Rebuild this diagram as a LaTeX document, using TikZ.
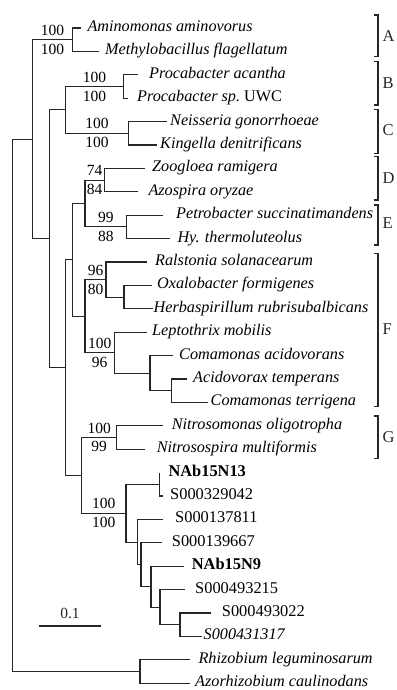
\documentclass[tikz,border=0pt]{standalone}
\usepackage{fontspec}
\setmainfont{Liberation Serif}
\usepackage{tikz}
\usetikzlibrary{calc}

\begin{document}
\begin{tikzpicture}[x=1pt, y=-1pt,
  branch/.style={line width=1.1pt, black!85},
  taxon/.style={anchor=west, inner sep=0pt, text height=7pt, text depth=0pt,
    font=\fontsize{16.2}{18}\selectfont\itshape},
  strain/.style={taxon, font=\fontsize{16.4}{18}\selectfont},
  boot/.style={inner sep=4pt, font=\fontsize{15.5}{17}\selectfont},
  cladename/.style={right, inner sep=4pt, font=\fontsize{16.5}{18}\selectfont}]
\useasboundingbox (0,0) rectangle (396,690);
% Internal nodes
\coordinate (Root) at (12.7,405.4);
\coordinate (In) at (32.3,139.2);
\coordinate (A) at (72.7,39.7);
\coordinate (BG) at (49.3,238.7);
\coordinate (BC) at (65.7,109.9);
\coordinate (B) at (123.3,86.5);
\coordinate (C) at (128.3,133.3);
\coordinate (DN) at (65.7,367.6);
\coordinate (DF) at (72.7,259.8);
\coordinate (DE) at (85,203.5);
\coordinate (D) at (104.3,180.1);
\coordinate (E) at (126.7,226.9);
\coordinate (F) at (85,316.2);
\coordinate (Fa) at (106,279.6);
\coordinate (Fb) at (124,297.1);
\coordinate (Fc) at (114.3,352.7);
\coordinate (Fd) at (150,373.2);
\coordinate (Fe) at (171.7,390.7);
\coordinate (GN) at (81.7,475.3);
\coordinate (G) at (116.7,437.5);
\coordinate (N) at (126,513.2);
\coordinate (Na) at (159.3,484.3);
\coordinate (Nb) at (137.5,542.1);
\coordinate (Nc) at (141,564.8);
\coordinate (Nd) at (151,586.7);
\coordinate (Ne) at (160,607.2);
\coordinate (Nf) at (180,624.7);
\coordinate (Out) at (140,671.5);
% Tips (end of each leaf branch)
\coordinate (Amin) at (81,28.0);
\coordinate (Meth) at (99,51.4);
\coordinate (Pacan) at (138.3,74.8);
\coordinate (Puwc) at (128.3,98.2);
\coordinate (Neis) at (166.7,121.6);
\coordinate (King) at (156.7,145.0);
\coordinate (Zoog) at (145,168.4);
\coordinate (Azos) at (138.3,191.8);
\coordinate (Petr) at (163.3,215.2);
\coordinate (Hyth) at (170,238.6);
\coordinate (Rals) at (146.7,262.0);
\coordinate (Oxal) at (152,285.4);
\coordinate (Herb) at (153.3,308.8);
\coordinate (Lept) at (146.7,332.2);
\coordinate (Cacid) at (173.3,355.6);
\coordinate (Acid) at (186.7,379.0);
\coordinate (Cterr) at (208.3,402.4);
\coordinate (Nmon) at (163.3,425.8);
\coordinate (Nspi) at (145,449.2);
\coordinate (NAbA) at (159.3,472.6);
\coordinate (Sa) at (163.3,496.0);
\coordinate (Sb) at (163.3,519.4);
\coordinate (Sc) at (161.7,542.8);
\coordinate (NAbB) at (184,566.2);
\coordinate (Sd) at (185,589.6);
\coordinate (Se) at (211,613.0);
\coordinate (Sf) at (201.5,636.4);
\coordinate (Rhiz) at (190,659.8);
\coordinate (Azor) at (190,683.2);
% Branches
\draw[branch] (Root) |- (In) (Root) |- (Out);
\draw[branch] (In) |- (A) (In) |- (BG);
\draw[branch] (A) |- (Amin) (A) |- (Meth);
\draw[branch] (BG) |- (BC) (BG) |- (DN);
\draw[branch] (BC) |- (B) (BC) |- (C);
\draw[branch] (B) |- (Pacan) (B) |- (Puwc);
\draw[branch] (C) |- (Neis) (C) |- (King);
\draw[branch] (DN) |- (DF) (DN) |- (GN);
\draw[branch] (DF) |- (DE) (DF) |- (F);
\draw[branch] (DE) |- (D) (DE) |- (E);
\draw[branch] (D) |- (Zoog) (D) |- (Azos);
\draw[branch] (E) |- (Petr) (E) |- (Hyth);
\draw[branch] (F) |- (Fa) (F) |- (Fc);
\draw[branch] (Fa) |- (Rals) (Fa) |- (Fb);
\draw[branch] (Fb) |- (Oxal) (Fb) |- (Herb);
\draw[branch] (Fc) |- (Lept) (Fc) |- (Fd);
\draw[branch] (Fd) |- (Cacid) (Fd) |- (Fe);
\draw[branch] (Fe) |- (Acid) (Fe) |- (Cterr);
\draw[branch] (GN) |- (G) (GN) |- (N);
\draw[branch] (G) |- (Nmon) (G) |- (Nspi);
\draw[branch] (N) |- (Na) (N) |- (Nb);
\draw[branch] (Na) |- (NAbA) (Na) |- (Sa);
\draw[branch] (Nb) |- (Sb) (Nb) |- (Nc);
\draw[branch] (Nc) |- (Sc) (Nc) |- (Nd);
\draw[branch] (Nd) |- (NAbB) (Nd) |- (Ne);
\draw[branch] (Ne) |- (Sd) (Ne) |- (Nf);
\draw[branch] (Nf) |- (Se) (Nf) |- (Sf);
\draw[branch] (Out) |- (Rhiz) (Out) |- (Azor);
% Taxon names
\node[taxon] (AminL) at (87.3,28.0) {Aminomonas aminovorus};
\node[taxon] (MethL) at (105,51.4) {Methylobacillus flagellatum};
\node[taxon] (PacanL) at (149,74.8) {Procabacter acantha};
\node[taxon] (PuwcL) at (137,98.2) {Procabacter sp.\ \upshape UWC};
\node[taxon] (NeisL) at (170,121.6) {Neisseria gonorrhoeae};
\node[taxon] (KingL) at (160,145.0) {Kingella denitrificans};
\node[taxon] (ZoogL) at (152,168.4) {Zoogloea ramigera};
\node[taxon] (AzosL) at (148.3,191.8) {Azospira oryzae};
\node[taxon] (PetrL) at (176,215.2) {Petrobacter succinatimandens};
\node[taxon] (HythL) at (177.3,238.6) {Hy. thermoluteolus};
\node[taxon] (RalsL) at (155,262.0) {Ralstonia solanacearum};
\node[taxon] (OxalL) at (157,285.4) {Oxalobacter formigenes};
\node[taxon] (HerbL) at (153.5,308.8) {Herbaspirillum rubrisubalbicans};
\node[taxon] (LeptL) at (152,332.2) {Leptothrix mobilis};
\node[taxon] (CacidL) at (179,355.6) {Comamonas acidovorans};
\node[taxon] (AcidL) at (193,379.0) {Acidovorax temperans};
\node[taxon] (CterrL) at (210.5,402.4) {Comamonas terrigena};
\node[taxon] (NmonL) at (171.7,425.8) {Nitrosomonas oligotropha};
\node[taxon] (NspiL) at (156.7,449.2) {Nitrosospira multiformis};
\node[strain] (NAbAL) at (168.3,472.6) {\bfseries NAb15N13};
\node[strain] (SaL) at (170,496.0) {S000329042};
\node[strain] (SbL) at (175,519.4) {S000137811};
\node[strain] (ScL) at (171.7,542.8) {S000139667};
\node[strain] (NAbBL) at (191.7,566.2) {\bfseries NAb15N9};
\node[strain] (SdL) at (195,589.6) {S000493215};
\node[strain] (SeL) at (221.7,613.0) {S000493022};
\node[taxon] (SfL) at (203.5,636.4) {S000431317};
\node[taxon] (RhizL) at (198.3,659.8) {Rhizobium leguminosarum};
\node[taxon] (AzorL) at (195,683.2) {Azorhizobium caulinodans};
% Bootstrap values
\node[boot, above] (bA1) at ($(In |- A)!0.5!(A)$) {100};
\node[boot, below] (bA2) at ($(In |- A)!0.5!(A)$) {100};
\node[boot, above] (bB1) at ($(BC |- B)!0.5!(B)$) {100};
\node[boot, below] (bB2) at ($(BC |- B)!0.5!(B)$) {100};
\node[boot, above] (bC1) at ($(BC |- C)!0.5!(C)$) {100};
\node[boot, below] (bC2) at ($(BC |- C)!0.5!(C)$) {100};
\node[boot, above] (bD1) at ($(DE |- D)!0.5!(D)$) {74};
\node[boot, below] (bD2) at ($(DE |- D)!0.5!(D)$) {84};
\node[boot, above] (bE1) at ($(DE |- E)!0.5!(E)$) {99};
\node[boot, below] (bE2) at ($(DE |- E)!0.5!(E)$) {88};
\node[boot, above] (bFa1) at ($(F |- Fa)!0.5!(Fa)$) {96};
\node[boot, below] (bFa2) at ($(F |- Fa)!0.5!(Fa)$) {80};
\node[boot, above] (bFc1) at ($(F |- Fc)!0.5!(Fc)$) {100};
\node[boot, below] (bFc2) at ($(F |- Fc)!0.5!(Fc)$) {96};
\node[boot, above] (bG1) at ($(GN |- G)!0.5!(G)$) {100};
\node[boot, below] (bG2) at ($(GN |- G)!0.5!(G)$) {99};
\node[boot, above] (bN1) at ($(GN |- N)!0.5!(N)$) {100};
\node[boot, below] (bN2) at ($(GN |- N)!0.5!(N)$) {100};
% Clade brackets
\draw[branch] (373.5,15) -| (378,35.8) node[cladename] (gA) {A} |- (373.5,56.7);
\draw[branch] (373.5,61.7) -| (378,83.3) node[cladename] (gB) {B} |- (373.5,105);
\draw[branch] (373.5,109.3) -| (378,130) node[cladename] (gC) {C} |- (373.5,153.3);
\draw[branch] (373.5,156.7) -| (378,178.3) node[cladename] (gD) {D} |- (373.5,200);
\draw[branch] (373.5,205) -| (378,223) node[cladename] (gE) {E} |- (373.5,245);
\draw[branch] (373.5,253.3) -| (378,329) node[cladename] (gF) {F} |- (373.5,406.7);
\draw[branch] (373.5,416) -| (378,437.5) node[cladename] (gG) {G} |- (373.5,458.3);
% Scale bar
\coordinate (BarL) at (39,626);
\coordinate (BarR) at (101,626);
\draw[branch] (BarL) -- node[boot, above, yshift=2.5pt] (BarT) {0.1} (BarR);
\end{tikzpicture}
\end{document}
